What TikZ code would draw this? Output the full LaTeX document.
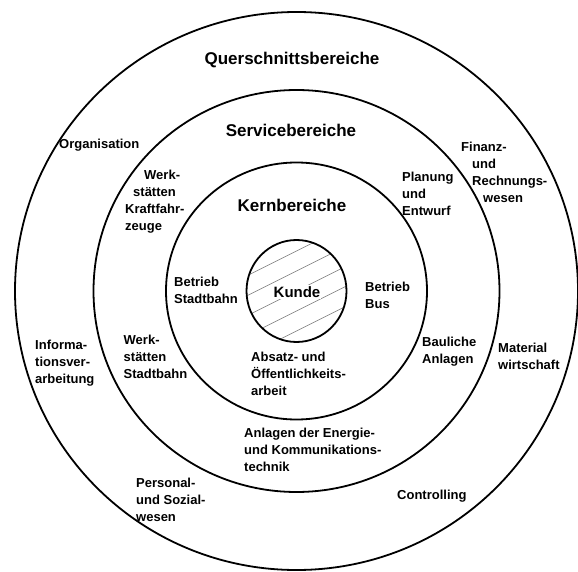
\documentclass[tikz,border=0pt]{standalone}
\usepackage{fontspec}
\setmainfont{Liberation Sans}
\usetikzlibrary{positioning}

\begin{document}
\begin{tikzpicture}[%
    x=1pt, y=-1pt,
    ring/.style={%
        draw,
        line width=1.8pt
    },
    hatch/.style={%
        draw=black!55,
        line width=0.5pt
    },
    heading/.style={%
        font={\fontsize{17}{20}\selectfont\bfseries},
        inner sep=0pt
    },
    area/.style={%
        font={\fontsize{13}{17}\selectfont\bfseries},
        align=left,
        anchor=north west,
        inner sep=0pt
    }
]
\useasboundingbox (0,0) rectangle (578,572);

% Rings
\coordinate (mid) at (296.5,291);
\begin{scope}
    \clip (mid) ellipse [x radius=50, y radius=51];
    \foreach \k in {-100,-80,...,100}
        \draw[hatch] ([shift={(-70,\k+35)}]mid) -- ([shift={(70,\k-35)}]mid);
\end{scope}
\draw[ring] (mid) ellipse [x radius=50, y radius=51];
\draw[ring] (mid) ellipse [x radius=130.5, y radius=128.5];
\draw[ring] (mid) ellipse [x radius=203, y radius=201];
\draw[ring] (mid) ellipse [x radius=281.5, y radius=279];

% Headings
\node[heading] (quer) at (292,60) {Querschnittsbereiche};
\node[heading] (service) at (291,130) {Servicebereiche};
\node[heading] (kern) at (292,205) {Kernbereiche};
\node[heading, fill=white, inner sep=1pt, font={\fontsize{15}{18}\selectfont\bfseries}] (kunde) at (297,292) {Kunde};

% Kernbereiche
\node[area] (betrstadt) at (174,277) {Betrieb\\Stadtbahn};
\node[area] (betrbus) at (365,282) {Betrieb\\Bus};
\node[area] (absatz) at (251,352) {Absatz- und\\Öffentlichkeits-\\arbeit};

% Servicebereiche
\node[area] (werkkfz) at (125,170) {\hspace*{19pt}Werk-\\\hspace*{8pt}stätten\\Kraftfahr-\\zeuge};
\node[area] (planung) at (402,172) {Planung\\und\\Entwurf};
\node[area] (werkstadt) at (123.5,335) {Werk-\\stätten\\Stadtbahn};
\node[area] (bauliche) at (422,337) {Bauliche\\Anlagen};
\node[area] (energie) at (244,428) {Anlagen der Energie-\\und Kommunikations-\\technik};

% Querschnittsbereiche
\node[area] (orga) at (59,139) {Organisation};
\node[area] (finanz) at (461,142) {Finanz-\\\hspace*{11pt}und\\\hspace*{11pt}Rechnungs-\\\hspace*{22pt}wesen};
\node[area] (info) at (35,340) {Informa-\\tionsver-\\arbeitung};
\node[area] (material) at (498,343) {Material\\wirtschaft};
\node[area] (personal) at (136,478) {Personal-\\und Sozial-\\wesen};
\node[area] (controlling) at (397,490) {Controlling};

\end{tikzpicture}
\end{document}
